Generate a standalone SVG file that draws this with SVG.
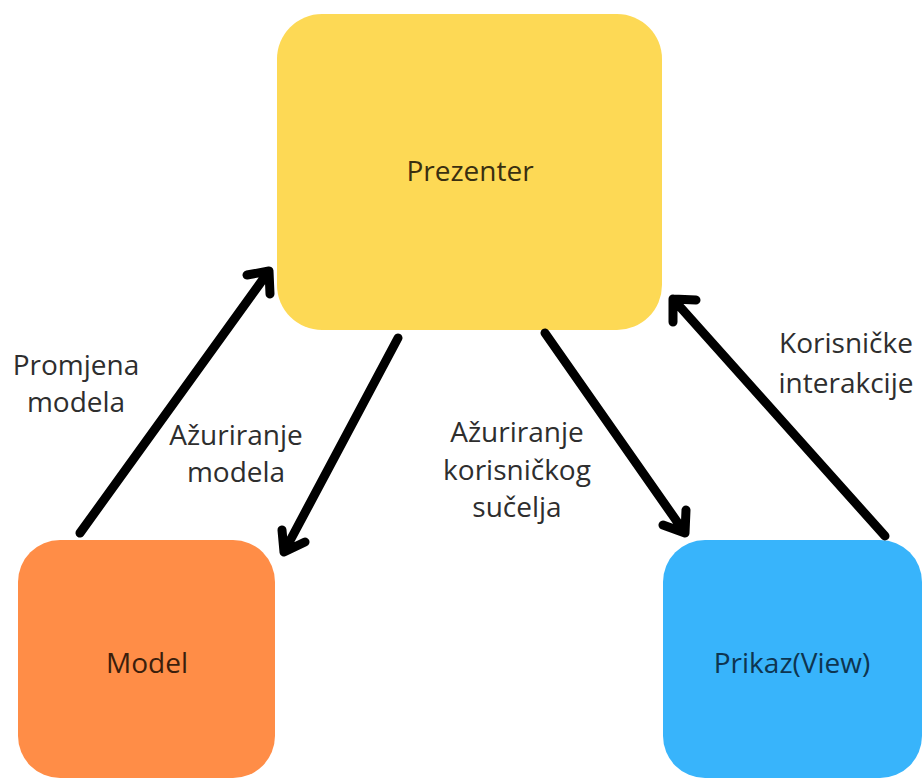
<svg xmlns="http://www.w3.org/2000/svg" width="923" height="781" viewBox="0 0 923 781">
  <style>
    .lbl { font-family: "Open Sans", "Noto Sans", sans-serif; font-size: 28px; fill: #2e2e2e; text-anchor: middle; }
    .nodetxt { font-family: "Open Sans", "Noto Sans", sans-serif; font-size: 28px; text-anchor: middle; }
    .conn { stroke: #000000; stroke-width: 9; fill: none; stroke-linecap: round; stroke-linejoin: round; }
  </style>
  <rect width="923" height="781" fill="#ffffff"/>
  <g id="prezenter">
    <rect x="277" y="14" width="385" height="316" rx="45" fill="#FDD955"/>
    <text class="nodetxt" x="470" y="181" fill="#3a2f10">Prezenter</text>
  </g>
  <g id="model">
    <rect x="18" y="540" width="257" height="238" rx="42" fill="#FF8D47"/>
    <text class="nodetxt" x="147" y="673" fill="#3b1e0c">Model</text>
  </g>
  <g id="prikaz">
    <rect x="663" y="540" width="259" height="238" rx="42" fill="#38B4FB"/>
    <text class="nodetxt" x="792" y="673" fill="#0e3550">Prikaz(View)</text>
  </g>
  <g id="connectors">
    <path class="conn" d="M80 533 L269 271 M247 275 L269 271 L270 294"/>
    <path class="conn" d="M398 338 L284 552 M282 530 L284 552 L305 542"/>
    <path class="conn" d="M545 333 L685 533 M663 525 L685 533 L686 510"/>
    <path class="conn" d="M885 536 L673 299 M673 322 L673 299 L696 300"/>
  </g>
  <g id="labels">
    <text class="lbl" x="76" y="375">Promjena</text>
    <text class="lbl" x="76" y="412">modela</text>
    <text class="lbl" x="236" y="445">Ažuriranje</text>
    <text class="lbl" x="236" y="482">modela</text>
    <text class="lbl" x="517" y="442">Ažuriranje</text>
    <text class="lbl" x="517" y="480">korisničkog</text>
    <text class="lbl" x="517" y="517">sučelja</text>
    <text class="lbl" x="846" y="353">Korisničke</text>
    <text class="lbl" x="846" y="393">interakcije</text>
  </g>
</svg>
